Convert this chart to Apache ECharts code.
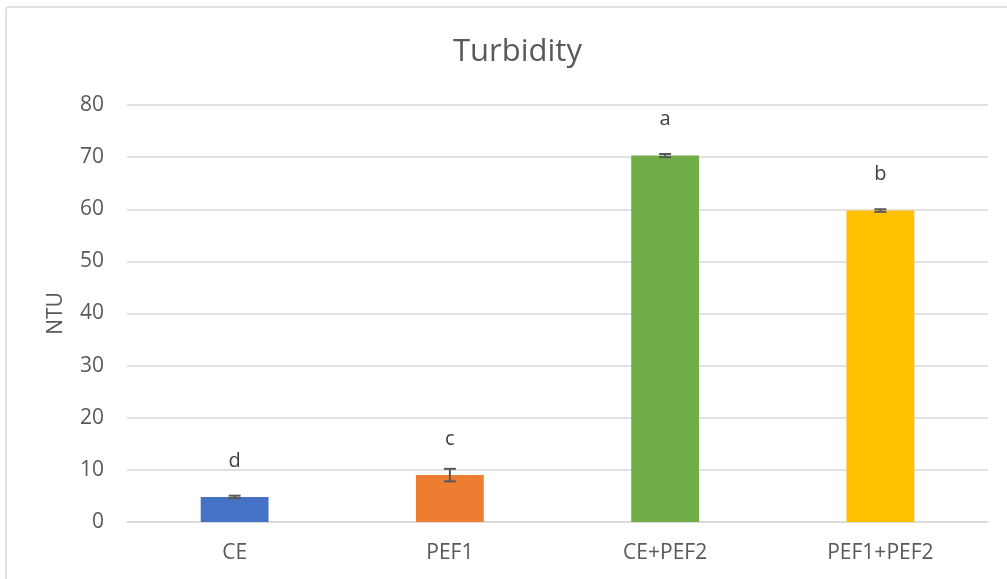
<!DOCTYPE html>
<html>
<head>
<meta charset="utf-8">
<script src="https://cdn.jsdelivr.net/npm/echarts@6/dist/echarts.min.js"></script>
<style>html,body{margin:0;padding:0;background:#fff}#c{width:1007px;height:579px}</style>
</head>
<body>
<div id="c"></div>
<script>
const categories = ['CE', 'PEF1', 'CE+PEF2', 'PEF1+PEF2'];
const values = [4.8, 9.0, 70.3, 59.75];
const errors = [0.25, 1.2, 0.3, 0.25];
const letters = ['d', 'c', 'a', 'b'];
const colors = ['#4472C4', '#ED7D31', '#70AD47', '#FFC000'];
const yTicks = [0, 10, 20, 30, 40, 50, 60, 70, 80];

const font = '"Open Sans", sans-serif';
const chart = echarts.init(document.getElementById('c'));
chart.setOption({
  animation: false,
  title: {
    text: 'Turbidity', left: 448, top: 32,
    textStyle: { fontFamily: font, fontSize: 31, fontWeight: 'normal', color: '#595959' }
  },
  graphic: [{
    type: 'rect', shape: { x: 6, y: 7, width: 1100, height: 700, r: 3 },
    style: { fill: 'none', stroke: '#d9d9d9', lineWidth: 1.5 }, silent: true
  }],
  grid: { left: 127, right: 19, top: 105, bottom: 57 },
  xAxis: {
    type: 'category', data: categories,
    axisLine: { lineStyle: { color: '#d9d9d9', width: 1.5 } },
    axisTick: { show: false },
    axisLabel: { fontFamily: font, fontSize: 21, color: '#595959', margin: 21 }
  },
  yAxis: {
    type: 'value', min: yTicks[0], max: yTicks[yTicks.length - 1], interval: 10,
    name: 'NTU', nameLocation: 'middle', nameGap: 60,
    nameTextStyle: { fontFamily: font, fontSize: 21, color: '#595959' },
    axisLine: { show: false }, axisTick: { show: false },
    axisLabel: { fontFamily: font, fontSize: 21, color: '#595959', margin: 23 },
    splitLine: { lineStyle: { color: '#d9d9d9', width: 1.5 } }
  },
  series: [{
    type: 'bar', barWidth: '31.5%',
    data: values.map((v, i) => ({ value: v, itemStyle: { color: colors[i] } })),
    label: {
      show: true, position: 'top', distance: 26,
      formatter: p => letters[p.dataIndex],
      fontFamily: font, fontSize: 20, color: '#404040'
    }
  }, {
    type: 'custom',
    data: values.map((v, i) => [i, v - errors[i], v + errors[i]]),
    renderItem: (params, api) => {
      const lo = api.coord([api.value(0), api.value(1)]);
      const hi = api.coord([api.value(0), api.value(2)]);
      const hw = 6;
      const st = { stroke: '#595959', lineWidth: 2 };
      return { type: 'group', children: [
        { type: 'line', shape: { x1: lo[0], y1: lo[1], x2: hi[0], y2: hi[1] }, style: st },
        { type: 'line', shape: { x1: lo[0] - hw, y1: lo[1], x2: lo[0] + hw, y2: lo[1] }, style: st },
        { type: 'line', shape: { x1: hi[0] - hw, y1: hi[1], x2: hi[0] + hw, y2: hi[1] }, style: st }
      ]};
    },
    z: 5
  }]
});
</script>
</body>
</html>
